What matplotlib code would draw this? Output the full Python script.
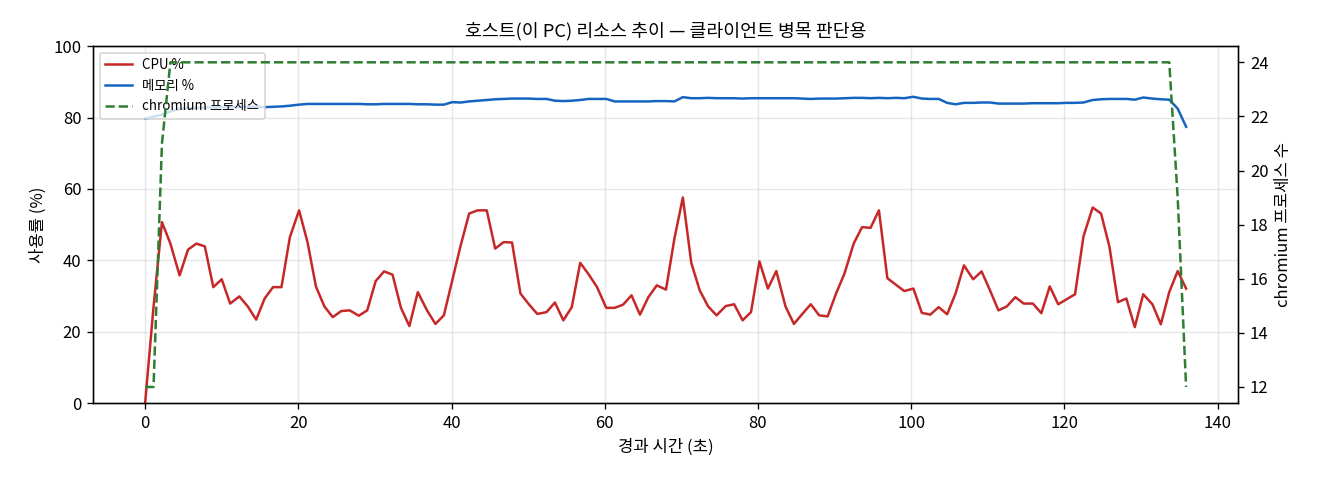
import matplotlib
matplotlib.use('Agg')
import matplotlib.pyplot as plt

plt.rcParams['font.family'] = ['Noto Sans CJK KR', 'DejaVu Sans']
plt.rcParams['axes.unicode_minus'] = False

# 경과 시간 (초)
t = [0.0, 1.1, 2.2, 3.3, 4.5, 5.6, 6.7, 7.8, 8.9, 10.0, 11.1, 12.3, 13.4, 14.5, 15.6, 16.7,
     17.8, 18.9, 20.1, 21.2, 22.3, 23.4, 24.5, 25.6, 26.7, 27.9, 29.0, 30.1, 31.2, 32.3, 33.4,
     34.5, 35.6, 36.8, 37.9, 39.0, 40.1, 41.2, 42.3, 43.4, 44.6, 45.7, 46.8, 47.9, 49.0, 50.1,
     51.2, 52.4, 53.5, 54.6, 55.7, 56.8, 57.9, 59.0, 60.2, 61.3, 62.4, 63.5, 64.6, 65.7, 66.8,
     68.0, 69.1, 70.2, 71.3, 72.4, 73.5, 74.6, 75.8, 76.9, 78.0, 79.1, 80.2, 81.3, 82.4, 83.6,
     84.7, 85.8, 86.9, 88.0, 89.1, 90.2, 91.3, 92.5, 93.6, 94.7, 95.8, 96.9, 98.0, 99.1, 100.3,
     101.4, 102.5, 103.6, 104.7, 105.8, 106.9, 108.1, 109.2, 110.3, 111.4, 112.5, 113.6, 114.7,
     115.9, 117.0, 118.1, 119.2, 120.3, 121.4, 122.5, 123.7, 124.8, 125.9, 127.0, 128.1, 129.2,
     130.3, 131.5, 132.6, 133.7, 134.8, 135.9]

cpu = [0, 27, 50.7, 44.7, 35.8, 43.0, 44.7, 43.9, 32.5, 34.7, 27.9, 29.9, 27.1, 23.4, 29.3, 32.5,
       32.5, 46.5, 54.0, 45.1, 32.7, 27.1, 24.1, 25.8, 26.0, 24.5, 26.0, 34.2, 36.9, 36.0, 26.7,
       21.6, 31.1, 26.0, 22.2, 24.6, 34.4, 44.2, 53.1, 54.0, 54.0, 43.3, 45.1, 45.0, 30.7, 27.7,
       25.0, 25.5, 28.2, 23.2, 26.9, 39.3, 36.1, 32.5, 26.7, 26.7, 27.6, 30.2, 24.8, 29.7, 33.0,
       31.8, 46.1, 57.6, 39.3, 31.6, 27.1, 24.6, 27.2, 27.7, 23.2, 25.5, 39.7, 32.1, 37.0, 27.1,
       22.2, 25.0, 27.7, 24.6, 24.3, 30.7, 36.3, 44.7, 49.3, 49.1, 54.0, 35.0, 33.2, 31.4, 32.1,
       25.3, 24.8, 26.9, 24.9, 30.7, 38.6, 34.7, 36.9, 31.6, 26.0, 27.1, 29.7, 27.9, 27.9, 25.2,
       32.7, 27.7, 29.1, 30.5, 46.7, 54.8, 53.1, 43.7, 28.3, 29.3, 21.3, 30.5, 27.7, 22.1, 31.1,
       37.0, 32.1]

mem = [79.7, 80.2, 80.8, 81.7, 82.4, 82.6, 82.7, 82.8, 82.8, 82.9, 82.9, 82.9, 83.0, 83.0, 82.9,
       83.0, 83.1, 83.3, 83.6, 83.8, 83.8, 83.8, 83.8, 83.8, 83.8, 83.8, 83.7, 83.7, 83.8, 83.8,
       83.8, 83.8, 83.7, 83.7, 83.6, 83.6, 84.3, 84.2, 84.5, 84.7, 84.9, 85.1, 85.2, 85.3, 85.3,
       85.3, 85.2, 85.2, 84.7, 84.6, 84.7, 84.9, 85.2, 85.2, 85.2, 84.5, 84.5, 84.5, 84.5, 84.5,
       84.6, 84.6, 84.5, 85.7, 85.4, 85.4, 85.5, 85.4, 85.4, 85.4, 85.3, 85.4, 85.4, 85.4, 85.4,
       85.4, 85.4, 85.3, 85.2, 85.3, 85.3, 85.3, 85.4, 85.5, 85.5, 85.4, 85.5, 85.4, 85.5, 85.4,
       85.8, 85.3, 85.2, 85.2, 84.1, 83.7, 84.1, 84.1, 84.2, 84.2, 83.9, 83.9, 83.9, 83.9, 84.0,
       84.0, 84.0, 84.0, 84.1, 84.1, 84.2, 84.9, 85.1, 85.2, 85.2, 85.2, 85.0, 85.6, 85.3, 85.1,
       85.0, 82.5, 77.4]

chromium = [12, 12, 21] + [24] * 118 + [19, 12]

fig, ax = plt.subplots(figsize=(11, 4), dpi=120)
fig.subplots_adjust(left=0.0705, right=0.938, top=0.904, bottom=0.16)

l1, = ax.plot(t, cpu, color='#c62828', lw=1.5, label='CPU %')
l2, = ax.plot(t, mem, color='#1565c0', lw=1.5, label='메모리 %')
ax.set_ylim(0, 100)
ax.set_xlabel('경과 시간 (초)')
ax.set_ylabel('사용률 (%)')
ax.grid(True, alpha=0.3)

ax2 = ax.twinx()
l3, = ax2.plot(t, chromium, color='#2e7d32', lw=1.5, ls='--', label='chromium 프로세스')
ax2.set_ylabel('chromium 프로세스 수')

ax.legend(handles=[l1, l2, l3], loc='upper left', fontsize=8)
ax.set_title('호스트(이 PC) 리소스 추이 — 클라이언트 병목 판단용', fontsize=11)

fig.savefig('out.png')
